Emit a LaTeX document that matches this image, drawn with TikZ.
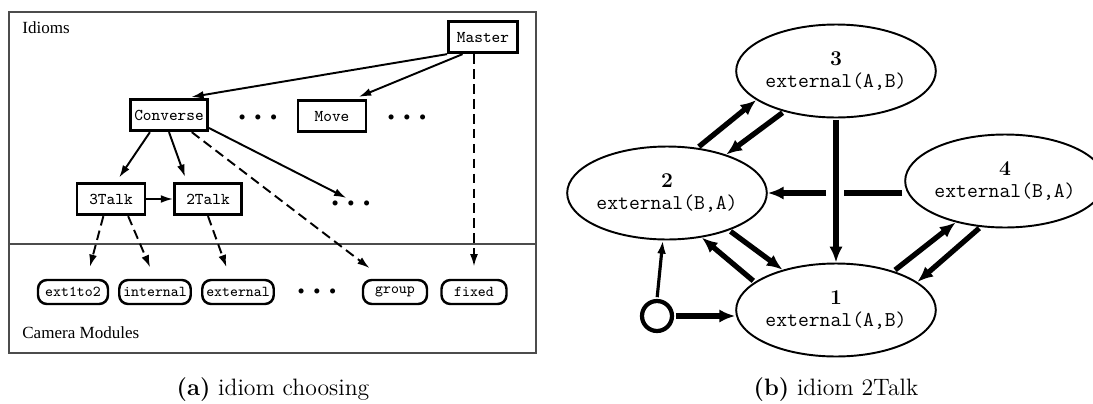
\documentclass[tikz,border=0pt]{standalone}
\usepackage{fontspec}
\newfontfamily\timesfont{Liberation Serif}
\usepackage{tikz}
\usetikzlibrary{arrows.meta, shapes.geometric, calc, positioning}
\tikzset{ x=0.02cm, y=-0.02cm, >=Latex,
  frame/.style={draw=black!70, line width=0.9pt},
  idiom/.style={draw, line width=1.6pt, minimum height=0.63cm, inner sep=0pt, font=\ttfamily\fontsize{9.4}{10}\selectfont},
  module/.style={draw, line width=1.4pt, rounded corners=5pt, minimum height=0.48cm, inner sep=0pt, font=\ttfamily\fontsize{8.6}{9}\selectfont},
  link/.style={->, line width=1.1pt, >={Latex[length=7pt,width=4.5pt]}, shorten >=3pt},
  dlink/.style={link, dash pattern=on 5.5pt off 3pt, shorten >=7pt},
  stnode/.style={ellipse, draw, line width=1.1pt, minimum width=3.85cm, minimum height=1.86cm, inner sep=0pt, align=center, font=\ttfamily\fontsize{12}{12.5}\selectfont},
  trans/.style={->, line width=3pt, >={Latex[length=9pt,width=7.5pt]}, shorten <=1pt},
  label/.style={inner sep=0pt, anchor=west, font=\timesfont\fontsize{9.7}{11}\selectfont},
  capt/.style={inner sep=0pt, font=\fontsize{13.5}{16}\selectfont}
}
\newcommand\dotrow{\makebox[9pt]{\textbullet}\makebox[9pt]{\textbullet}\makebox[9pt]{\textbullet}}
\newcommand\stnum[1]{{\rmfamily\bfseries #1}}

\begin{document}
\begin{tikzpicture}
\useasboundingbox (0,0) rectangle (1093,403);
% (a) idiom choosing
\draw[frame] (9,12) rectangle (536,353);
\draw[frame] (9,244) -- (536,244);
\node[label] (idl) at (22,28) {Idioms};
\node[label] (cml) at (22,333) {Camera Modules};
\node[idiom, minimum width=1.38cm] (master) at (483,37) {Master};
\node[idiom, minimum width=1.54cm] (converse) at (169,115) {Converse};
\node[idiom, minimum width=1.36cm] (move) at (332,116) {Move};
\node[idiom, minimum width=1.36cm] (talk3) at (111,199) {3Talk};
\node[idiom, minimum width=1.34cm] (talk2) at (208,199) {2Talk};
\node[inner sep=0pt] (d1) at (258,118) {\dotrow};
\node[inner sep=0pt] (d2) at (407,118) {\dotrow};
\node[inner sep=0pt] (d3) at (351,204) {\dotrow};
\node[module, minimum width=1.4cm] (ext) at (73,292) {ext1to2};
\node[module, minimum width=1.43cm] (internal) at (155,292) {internal};
\node[module, minimum width=1.43cm] (external) at (238,292) {external};
\node[inner sep=0pt] (d4) at (317,292) {\dotrow};
\node[module, minimum width=1.28cm] (group) at (395,292) {group};
\node[module, minimum width=1.3cm] (fixed) at (474,292) {fixed};
\draw[link] (master.south west) -- (converse.45);
\draw[link] (master.220) -- (move.38);
\draw[dlink] (fixed.north |- master.south) -- (fixed.north);
\draw[link] (converse.222) -- (talk3.73);
\draw[link] (converse.south) -- (talk2.141);
\draw[link] (converse.342) -- (d3.north);
\draw[dlink, shorten >=10pt] (converse.323) -- (group.131);
\draw[link, shorten >=0pt] (talk3.east) -- (talk2.west);
\draw[dlink] (talk3.246) -- (ext.44);
\draw[dlink] (talk3.315) -- (internal.north);
\draw[dlink] (talk2.south) -- (external.119);
\node[capt] (capa) at (273,390) {\textbf{(a)} idiom choosing};
% (b) idiom 2Talk
\node[stnode] (e3) at (836,71) {\stnum{3}\\external(A,B)};
\node[stnode] (e2) at (667,193) {\stnum{2}\\external(B,A)};
\node[stnode] (e4) at (1005,181) {\stnum{4}\\external(B,A)};
\node[stnode] (e1) at (836,310) {\stnum{1}\\external(A,B)};
\node[circle, draw, line width=2.4pt, minimum size=0.6cm, inner sep=0pt] (start) at (657,316) {};
\coordinate (cross) at (e3.south |- e2.east);
\draw[trans] (e2.56) -- (e3.200);
\draw[trans] (e3.218) -- (e2.33);
\draw[trans, -] (cross -| e4.west) -- ($(cross)+(8,0)$);
\draw[trans] ($(cross)+(-8,0)$) -- (cross -| e2.east);
\draw[trans] (e3.south) -- (e1.north);
\draw[trans] (e2.329) -- (e1.143);
\draw[trans] (e1.161) -- (e2.308);
\draw[trans] (e1.34) -- (e4.220);
\draw[trans] (e4.242) -- (e1.19);
\draw[trans, line width=1.8pt, >={Latex[length=7.5pt,width=5pt]}] (start.north) -- (e2.265);
\draw[trans] (start.east) -- (start.east -| e1.west);
\node[capt] (capb) at (836,390) {\textbf{(b)} idiom 2Talk};
\end{tikzpicture}
\end{document}
